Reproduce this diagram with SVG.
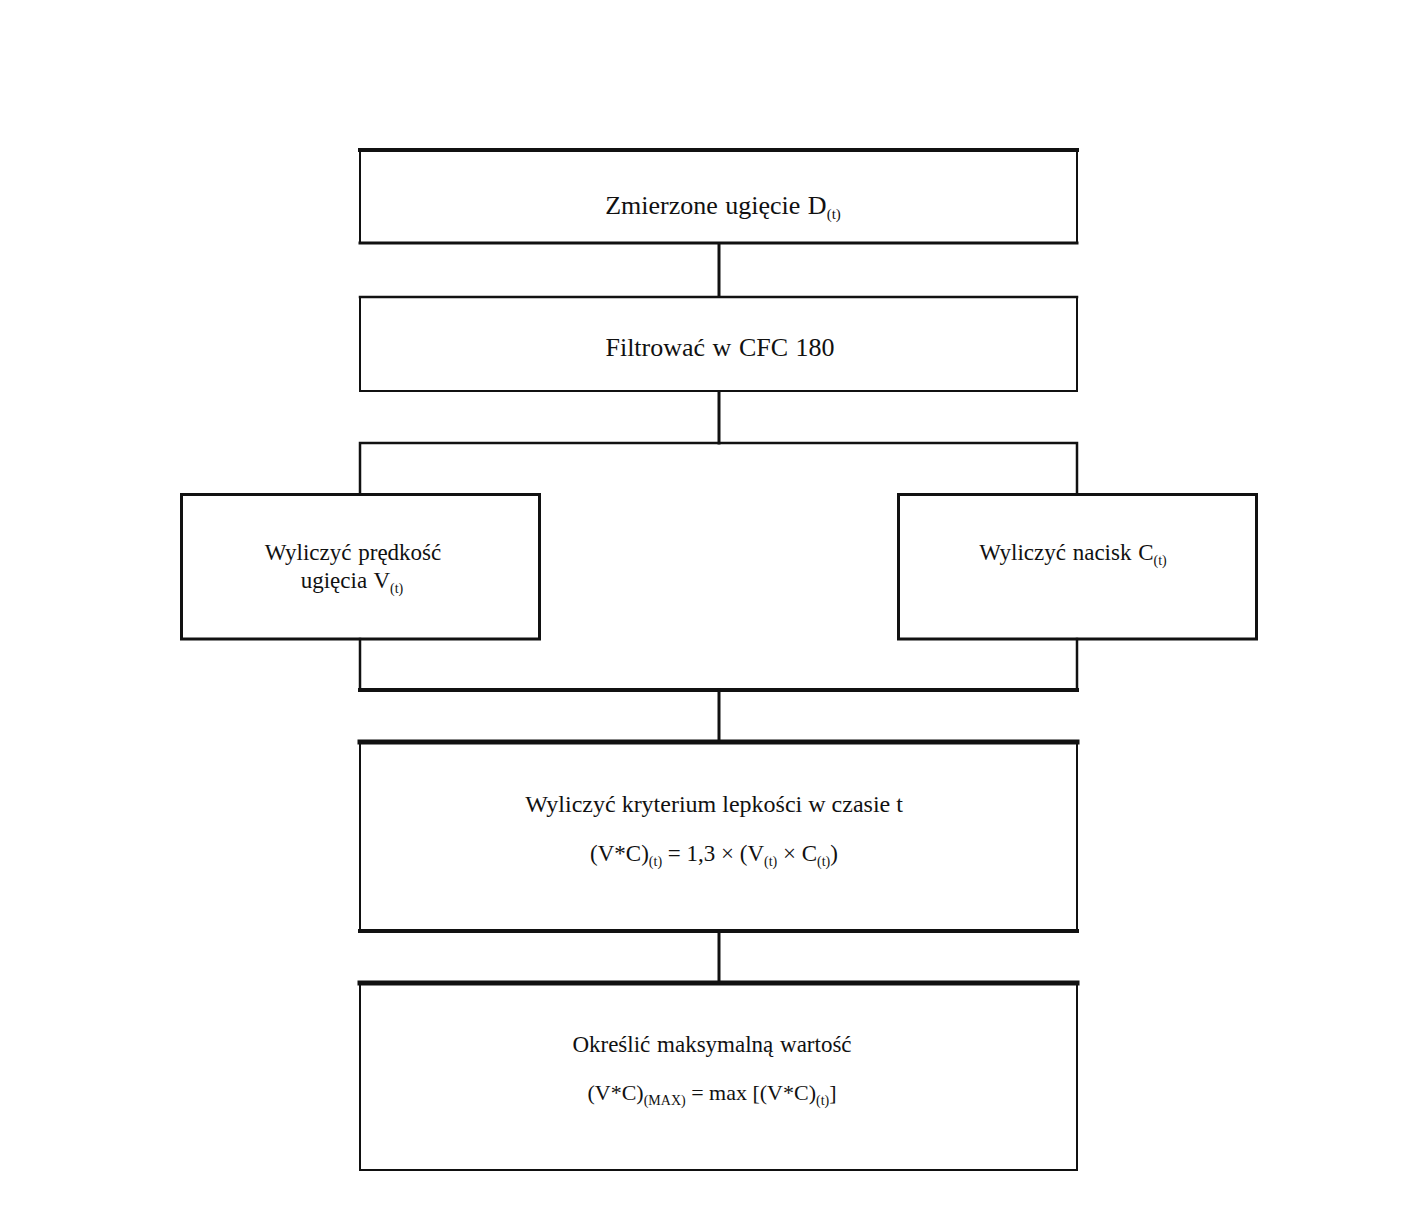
<svg xmlns="http://www.w3.org/2000/svg" width="1422" height="1215" viewBox="0 0 1422 1215">
<style>
.t{font-family:"Liberation Serif","Times New Roman",serif;font-size:24px;fill:#111;text-anchor:middle;word-spacing:1px}
.s{font-size:14px}
.b{fill:#fff;stroke:none}
.ln{stroke:#111;fill:none;stroke-linecap:square}
</style>
<rect width="1422" height="1215" fill="#fff"/>
<g id="connectors">
<line class="ln" x1="719" y1="243" x2="719" y2="297" stroke-width="3"/>
<line class="ln" x1="719" y1="391" x2="719" y2="443" stroke-width="3"/>
<polyline class="ln" points="360,494 360,443 1077,443 1077,494" stroke-width="2.5"/>
<polyline class="ln" points="360,639 360,690 1077,690 1077,639" stroke-width="2.5"/>
<line class="ln" x1="360" y1="690" x2="1077" y2="690" stroke-width="4"/>
<line class="ln" x1="719" y1="690" x2="719" y2="742" stroke-width="3"/>
<line class="ln" x1="719" y1="931" x2="719" y2="983" stroke-width="3"/>
</g>
<g id="n1">
<rect class="b" x="360" y="150" width="717" height="93"/>
<line class="ln" x1="360" y1="150" x2="1077" y2="150" stroke-width="4"/>
<line class="ln" x1="360" y1="243" x2="1077" y2="243" stroke-width="3"/>
<line class="ln" x1="360" y1="150" x2="360" y2="243" stroke-width="2"/>
<line class="ln" x1="1077" y1="150" x2="1077" y2="243" stroke-width="2"/>
<text class="t" x="723" y="214" style="font-size:26px">Zmierzone ugięcie D<tspan class="s" dy="5" style="font-size:15px">(t)</tspan></text>
</g>
<g id="n2">
<rect class="b" x="360" y="297" width="717" height="94"/>
<line class="ln" x1="360" y1="297" x2="1077" y2="297" stroke-width="2.5"/>
<line class="ln" x1="360" y1="391" x2="1077" y2="391" stroke-width="2"/>
<line class="ln" x1="360" y1="297" x2="360" y2="391" stroke-width="2"/>
<line class="ln" x1="1077" y1="297" x2="1077" y2="391" stroke-width="2"/>
<text class="t" x="720" y="356" style="font-size:26px">Filtrować w CFC 180</text>
</g>
<g id="n3">
<rect class="ln" x="181.5" y="494.5" width="358" height="144.5" stroke-width="3" fill="#fff"/>
<text class="t" x="353" y="560" style="font-size:23px">Wyliczyć prędkość</text>
<text class="t" x="352" y="588" style="font-size:23px">ugięcia V<tspan class="s" dy="5">(t)</tspan></text>
</g>
<g id="n4">
<rect class="ln" x="898.5" y="494.5" width="358" height="144.5" stroke-width="3" fill="#fff"/>
<text class="t" x="1073" y="560" style="font-size:23px">Wyliczyć nacisk C<tspan class="s" dy="5">(t)</tspan></text>
</g>
<g id="n5">
<rect class="b" x="360" y="742" width="717" height="189"/>
<line class="ln" x1="360" y1="742" x2="1077" y2="742" stroke-width="5"/>
<line class="ln" x1="360" y1="931" x2="1077" y2="931" stroke-width="4"/>
<line class="ln" x1="360" y1="742" x2="360" y2="931" stroke-width="2"/>
<line class="ln" x1="1077" y1="742" x2="1077" y2="931" stroke-width="2"/>
<text class="t" x="714" y="812" style="word-spacing:0">Wyliczyć kryterium lepkości w czasie t</text>
<text class="t" x="714" y="861" style="font-size:23px;word-spacing:0">(V*C)<tspan class="s" dy="5">(t)</tspan><tspan dy="-5"> = 1,3 × (V</tspan><tspan class="s" dy="5">(t)</tspan><tspan dy="-5"> × C</tspan><tspan class="s" dy="5">(t)</tspan><tspan dy="-5">)</tspan></text>
</g>
<g id="n6">
<rect class="b" x="360" y="983" width="717" height="187"/>
<line class="ln" x1="360" y1="983" x2="1077" y2="983" stroke-width="5"/>
<line class="ln" x1="360" y1="1170" x2="1077" y2="1170" stroke-width="2"/>
<line class="ln" x1="360" y1="983" x2="360" y2="1170" stroke-width="2"/>
<line class="ln" x1="1077" y1="983" x2="1077" y2="1170" stroke-width="2"/>
<text class="t" x="712" y="1052" style="font-size:23px">Określić maksymalną wartość</text>
<text class="t" x="712" y="1100" style="font-size:22px;word-spacing:0">(V*C)<tspan class="s" dy="5">(MAX)</tspan><tspan dy="-5"> = max [(V*C)</tspan><tspan class="s" dy="5">(t)</tspan><tspan dy="-5">]</tspan></text>
</g>
</svg>
